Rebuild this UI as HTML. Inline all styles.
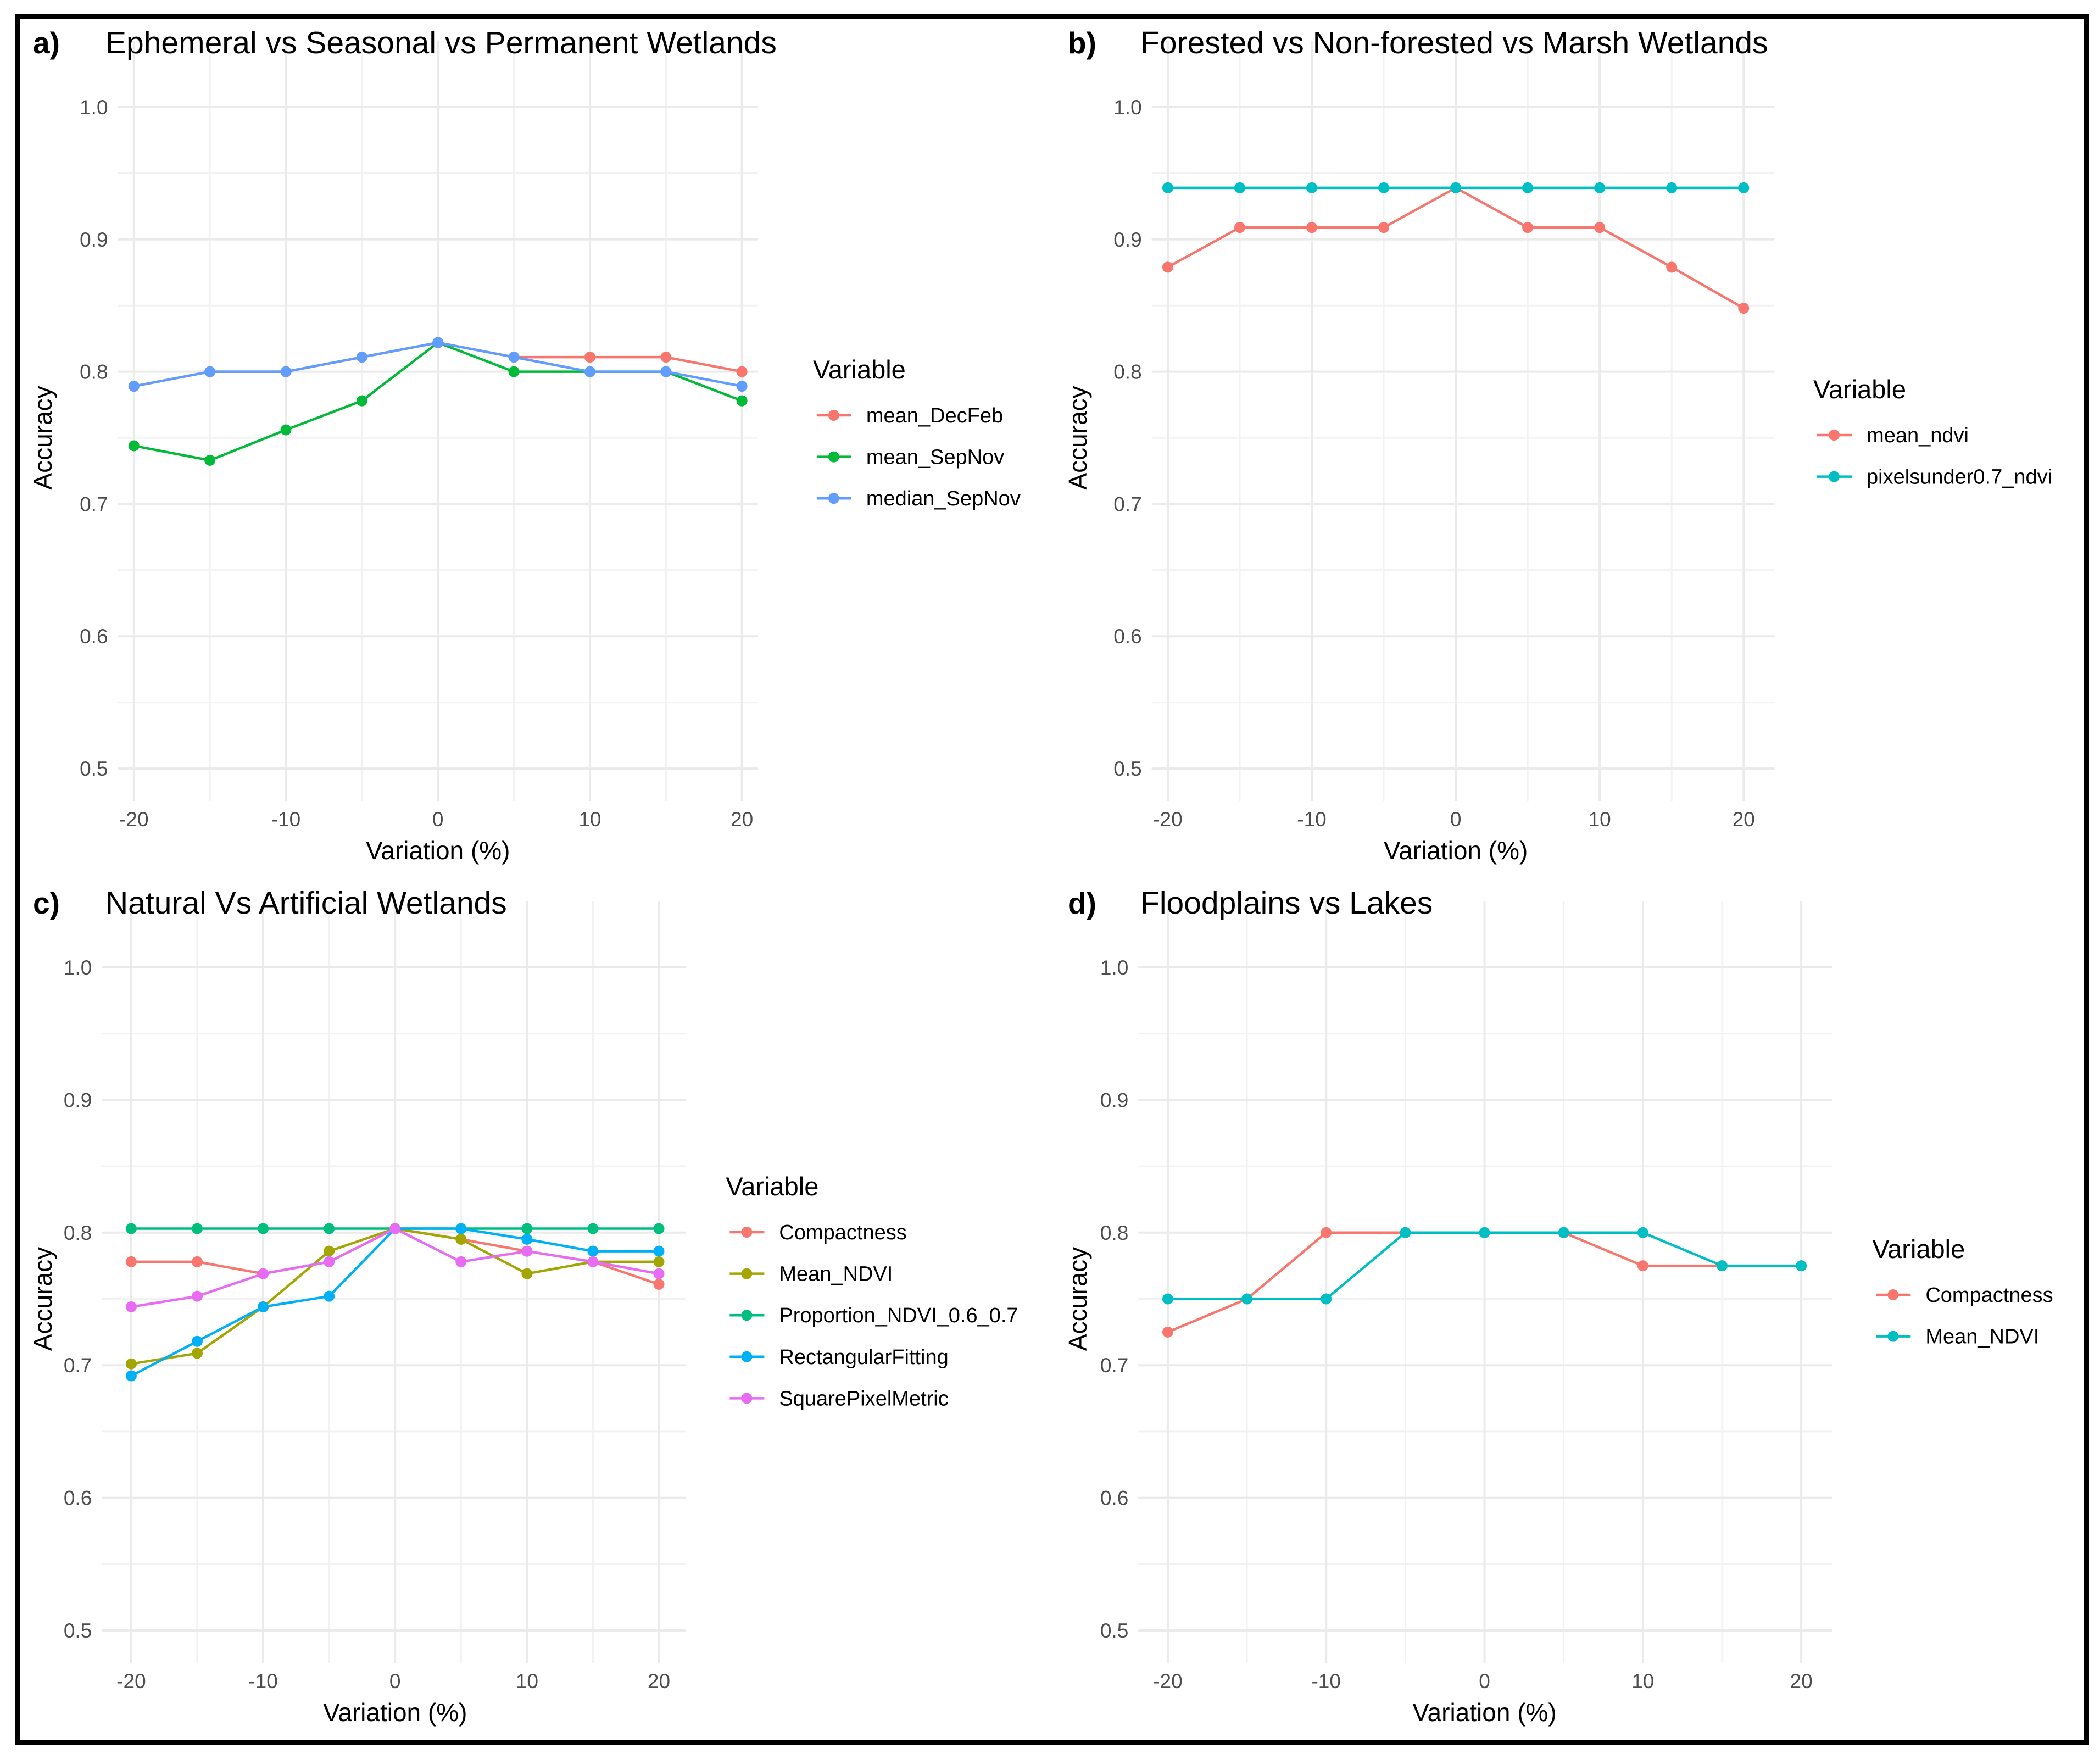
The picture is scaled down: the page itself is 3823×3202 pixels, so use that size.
<!DOCTYPE html>
<html><head><meta charset="utf-8"><style>
html,body{margin:0;padding:0;background:#fff}
svg{display:block;font-family:"Liberation Sans",sans-serif}
</style></head><body>
<svg id="fig" width="3823" height="3202" viewBox="0 0 3823 3202" xmlns="http://www.w3.org/2000/svg">
<rect x="0" y="0" width="3823" height="3202" fill="#fff"/>
<rect x="31.5" y="29.5" width="3767" height="3142" fill="none" stroke="#000" stroke-width="9"/>
</svg>
<script>
const xCats = [-20,-15,-10,-5,0,5,10,15,20];
const xTickLabels = ["-20","-10","0","10","20"];
const xTickVals = [-20,-10,0,10,20];
const yTickVals = [0.5,0.6,0.7,0.8,0.9,1.0];
const yTickLabels = ["0.5","0.6","0.7","0.8","0.9","1.0"];

const aNames = ["mean_DecFeb","mean_SepNov","median_SepNov"];
const aDecFeb = [0.789,0.8,0.8,0.811,0.822,0.811,0.811,0.811,0.8];
const aSepNov = [0.744,0.733,0.756,0.778,0.822,0.8,0.8,0.8,0.778];
const aMedian = [0.789,0.8,0.8,0.811,0.822,0.811,0.8,0.8,0.789];

const bNames = ["mean_ndvi","pixelsunder0.7_ndvi"];
const bMeanNdvi = [0.879,0.909,0.909,0.909,0.939,0.909,0.909,0.879,0.848];
const bPixels = [0.939,0.939,0.939,0.939,0.939,0.939,0.939,0.939,0.939];

const cNames = ["Compactness","Mean_NDVI","Proportion_NDVI_0.6_0.7","RectangularFitting","SquarePixelMetric"];
const cCompact = [0.778,0.778,0.769,0.778,0.803,0.795,0.786,0.778,0.761];
const cMeanNdvi = [0.701,0.709,0.744,0.786,0.803,0.795,0.769,0.778,0.778];
const cProp = [0.803,0.803,0.803,0.803,0.803,0.803,0.803,0.803,0.803];
const cRect = [0.692,0.718,0.744,0.752,0.803,0.803,0.795,0.786,0.786];
const cSquare = [0.744,0.752,0.769,0.778,0.803,0.778,0.786,0.778,0.769];

const dNames = ["Compactness","Mean_NDVI"];
const dCompact = [0.725,0.75,0.8,0.8,0.8,0.8,0.775,0.775,0.775];
const dMeanNdvi = [0.75,0.75,0.75,0.8,0.8,0.8,0.8,0.775,0.775];

const NS = "http://www.w3.org/2000/svg";
const svg = document.getElementById('fig');
function mk(tag, attrs, parent, text){
  const e = document.createElementNS(NS, tag);
  for (const k in attrs) e.setAttribute(k, attrs[k]);
  if (text !== undefined) e.textContent = text;
  (parent||svg).appendChild(e);
  return e;
}
const S = 2.438;

function panel(cfg){
  const g = mk('g', {});
  
  
  const xs = v => cfg.x0 + (v - (-20)) / 40 * (cfg.x1 - cfg.x0);
  const ys = v => cfg.y1 + (v - 1.0) / (0.5 - 1.0) * (cfg.y05 - cfg.y1);
  const gl = cfg.gl, gr = cfg.gr, gt = cfg.y1 - 120, gb = cfg.y05 + 60;
  for (let v = 0.55; v < 1.0; v += 0.1) {
    const l = mk('line', {x1:gl,x2:gr,y1:ys(v),y2:ys(v),stroke:'#f2f2f2','stroke-width':3}, g);
    
    
  }
  for (let i = 0; i < xCats.length; i++) {
    const l = mk('line', {x1:xs(xCats[i]),x2:xs(xCats[i]),y1:gt,y2:gb,stroke:(xCats[i]%10===0?'#ebebeb':'#f2f2f2'),'stroke-width':(xCats[i]%10===0?4:3)}, g);
    
    
  }
  for (let i = 0; i < yTickVals.length; i++) {
    const l = mk('line', {x1:gl,x2:gr,y1:ys(yTickVals[i]),y2:ys(yTickVals[i]),stroke:'#ebebeb','stroke-width':4}, g);
    
    
    const t = mk('text', {x:gl-18,y:ys(yTickVals[i])+13,'text-anchor':'end','font-size':37,fill:'#4d4d4d'}, g, yTickLabels[i]);
    
    
  }
  for (let i = 0; i < xTickVals.length; i++) {
    const t = mk('text', {x:xs(xTickVals[i]),y:cfg.y05+105,'text-anchor':'middle','font-size':37,fill:'#4d4d4d'}, g, xTickLabels[i]);
    
    
  }
  const xt = mk('text', {x:xs(0),y:cfg.y05+165,'text-anchor':'middle','font-size':46,fill:'#000'}, g, 'Variation (%)');
  
  
  const yc = (ys(1.0)+ys(0.5))/2;
  const yt = mk('text', {x:0,y:0,'text-anchor':'middle','font-size':46,fill:'#000',transform:`translate(${cfg.px+94},${yc}) rotate(-90)`}, g, 'Accuracy');
  
  
  const lab = mk('text', {x:cfg.px+60,y:cfg.ty,'font-size':55,'font-weight':'bold',fill:'#000'}, g, cfg.label);
  
  
  const tt = mk('text', {x:cfg.px+192,y:cfg.ty,'font-size':57,fill:'#000'}, g, cfg.title);
  
  
  cfg.series.forEach((s, si) => {
    const sg = mk('g', {}, g);
    
    
    const pts = s.map((v,i) => xs(xCats[i]) + ',' + ys(v)).join(' ');
    const pl = mk('polyline', {points:pts,fill:'none',stroke:cfg.colors[si],'stroke-width':4.5}, sg);
    
    
    s.forEach((v,i) => {
      const c = mk('circle', {cx:xs(xCats[i]),cy:ys(v),r:10,fill:cfg.colors[si]}, sg);
      
      
    });
  });
  const lg = mk('g', {}, g);
  
  
  const lt = mk('text', {x:cfg.lx,y:cfg.ly,'font-size':47,fill:'#000'}, lg, 'Variable');
  
  
  cfg.names.forEach((n, i) => {
    const yy = cfg.ly + 67 + i * 75.6;
    const eg = mk('g', {}, lg);
    
    
    mk('line', {x1:cfg.lx+7,x2:cfg.lx+70,y1:yy,y2:yy,stroke:cfg.colors[i],'stroke-width':4.5}, eg);
    mk('circle', {cx:cfg.lx+38,cy:yy,r:10,fill:cfg.colors[i]}, eg);
    const et = mk('text', {x:cfg.lx+97,y:yy+13,'font-size':38,fill:'#000'}, eg, n);
    
    
  });
}

panel({id:'a',label:'a)',title:'Ephemeral vs Seasonal vs Permanent Wetlands',px:0,ty:97,
  x0:100*S,x1:554*S,y1:195,y05:1399,gl:88*S,gr:566*S,lx:607*S,ly:689,
  names:aNames,series:[aDecFeb,aSepNov,aMedian],colors:['#F8766D','#00BA38','#619CFF']});
panel({id:'b',label:'b)',title:'Forested vs Non-forested vs Marsh Wetlands',px:1884,ty:97,
  x0:872*S,x1:1302*S,y1:195,y05:1399,gl:860*S,gr:1325*S,lx:1354*S,ly:725,
  names:bNames,series:[bMeanNdvi,bPixels],colors:['#F8766D','#00BFC4']});
panel({id:'c',label:'c)',title:'Natural Vs Artificial Wetlands',px:0,ty:1663,
  x0:98*S,x1:492*S,y1:1761,y05:2968,gl:76*S,gr:512*S,lx:542*S,ly:2176,
  names:cNames,series:[cCompact,cMeanNdvi,cProp,cRect,cSquare],colors:['#F8766D','#A3A500','#00BF7D','#00B0F6','#E76BF3']});
panel({id:'d',label:'d)',title:'Floodplains vs Lakes',px:1884,ty:1663,
  x0:872*S,x1:1345*S,y1:1761,y05:2968,gl:850*S,gr:1368*S,lx:1398*S,ly:2290,
  names:dNames,series:[dCompact,dMeanNdvi],colors:['#F8766D','#00BFC4']});
</script>
</body></html>
